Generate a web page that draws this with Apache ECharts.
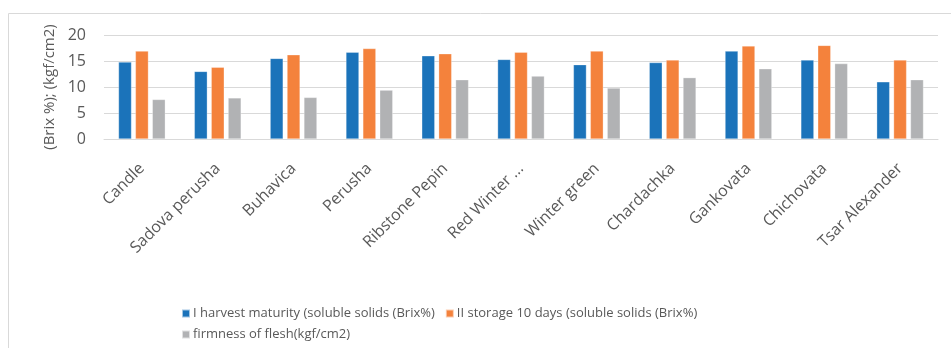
<!DOCTYPE html>
<html>
<head>
<meta charset="utf-8">
<script src="https://cdn.jsdelivr.net/npm/echarts@6/dist/echarts.min.js"></script>
<style>
  html, body { margin: 0; padding: 0; background: #fff; }
  #chart { width: 951px; height: 348px; }
</style>
</head>
<body>
<div id="chart"></div>
<script>
var categories = ['Candle', 'Sadova perusha', 'Buhavica', 'Perusha', 'Ribstone Pepin', 'Red Winter ...', 'Winter green', 'Chardachka', 'Gankovata', 'Chichovata', 'Tsar Alexander']
var harvest = [14.8, 13.0, 15.5, 16.7, 16.0, 15.3, 14.3, 14.7, 16.9, 15.2, 11.0]
var storage = [16.9, 13.8, 16.2, 17.4, 16.4, 16.7, 16.9, 15.2, 17.9, 18.0, 15.2]
var firmness = [7.6, 7.9, 8.0, 9.4, 11.4, 12.1, 9.8, 11.8, 13.5, 14.5, 11.4]
var seriesNames = ['I harvest maturity (soluble solids (Brix%)', 'II storage 10 days (soluble solids (Brix%)', 'firmness of flesh(kgf/cm2)']
var colors = ['#1b73ba', '#f4823c', '#b1b2b4']

var chart = echarts.init(document.getElementById('chart'))
var font = 'Open Sans'
var textColor = '#595959'

function bar(name, data) {
  return {
    name: name,
    type: 'bar',
    data: data,
    barWidth: 13,
    barGap: '30%',
    itemStyle: { borderColor: 'rgba(255,255,255,0.6)', borderWidth: 0.5 }
  }
}

// legend style shared by both rows
function legendRow(top, names) {
  return {
    left: 176,
    top: top,
    itemWidth: 8,
    itemHeight: 8,
    itemGap: 10,
    icon: 'rect',
    textStyle: { fontFamily: font, fontSize: 13, color: textColor, padding: [0, 0, 0, -2] },
    data: names
  }
}

chart.setOption({
  color: colors,
  animation: false,
  graphic: [{
    type: 'rect',
    left: 6,
    top: 11,
    shape: { width: 990, height: 400 },
    style: { fill: 'none', stroke: '#d9d9d9', lineWidth: 1 }
  }],
  grid: {
    left: 104,
    right: 13,
    top: 35,
    bottom: 209
  },
  legend: [
    legendRow(302, seriesNames.slice(0, 2)),
    legendRow(323, seriesNames.slice(2))
  ],
  xAxis: {
    type: 'category',
    data: categories,
    axisTick: { show: false },
    axisLine: { lineStyle: { color: '#d9d9d9' } },
    axisLabel: {
      rotate: 45,
      interval: 0,
      margin: 27,
      fontFamily: font,
      fontSize: 16,
      color: textColor
    }
  },
  yAxis: {
    type: 'value',
    min: 0,
    max: 20,
    interval: 5,
    name: '(Brix %); (kgf/cm2)',
    nameLocation: 'middle',
    nameRotate: 90,
    nameGap: 21,
    nameTextStyle: { fontFamily: font, fontSize: 15, color: textColor },
    axisLabel: { fontFamily: font, fontSize: 16, color: textColor, margin: 18 },
    splitLine: { lineStyle: { color: '#d9d9d9' } }
  },
  series: [
    bar(seriesNames[0], harvest),
    bar(seriesNames[1], storage),
    bar(seriesNames[2], firmness)
  ]
})
</script>
</body>
</html>
